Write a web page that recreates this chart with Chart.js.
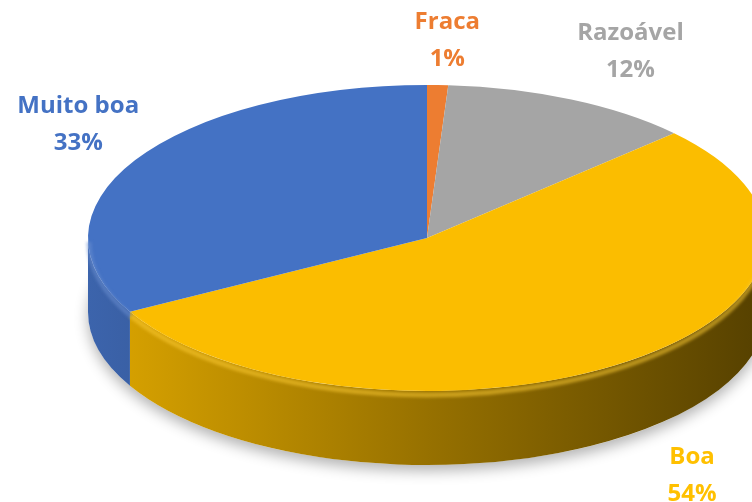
<!DOCTYPE html>
<html>
<head>
<meta charset="utf-8">
<script src="https://cdn.jsdelivr.net/npm/chart.js@4"></script>
<style>
  body { margin: 0; background: #fff; overflow: hidden; }
  #wrap { width: 752px; height: 502px; position: relative; }
</style>
</head>
<body>
<div id="wrap"><canvas id="pieChart"></canvas></div>
<script>
// ===== Data =====
const categories = ['Fraca', 'Razoável', 'Boa', 'Muito boa'];
const percentages = [1, 12, 54, 33];
const sliceColors = ['#ed7d31', '#a5a5a5', '#fbbd00', '#4472c4'];
const labelColors = ['#ed7d31', '#a5a5a5', '#ffc000', '#4472c4'];

// ===== Ellipse geometry for the tilted pie =====
const CX = 427, CY = 238, RX = 339, RY = 153, DEPTH = 74;

function shade(hex, f) {
    const n = parseInt(hex.slice(1), 16);
    const r = Math.round(((n >> 16) & 255) * f);
    const g = Math.round(((n >> 8) & 255) * f);
    const b = Math.round((n & 255) * f);
    return `rgb(${Math.min(r,255)}, ${Math.min(g,255)}, ${Math.min(b,255)})`;
}
function tint(hex, t) {
    const n = parseInt(hex.slice(1), 16);
    const mix = c => Math.round(c + (255 - c) * t);
    return `rgb(${mix((n >> 16) & 255)}, ${mix((n >> 8) & 255)}, ${mix(n & 255)})`;
}

// ===== 3D pie plugin: side walls + squash the top face =====
const pie3d = {
    id: 'pie3d',
    beforeDatasetsDraw(chart) {
        const ctx = chart.ctx;
        const meta = chart.getDatasetMeta(0);

        // soft shadow under the pie
        ctx.save();
        ctx.beginPath();
        ctx.ellipse(CX, CY + DEPTH, RX, RY, 0, 0, Math.PI * 2);
        ctx.shadowColor = 'rgba(0,0,0,0.3)';
        ctx.shadowBlur = 14;
        ctx.shadowOffsetY = 6;
        ctx.fillStyle = '#ffffff';
        ctx.fill();
        ctx.restore();

        // side walls (front half only)
        meta.data.forEach((arc, i) => {
            const a1 = Math.max(arc.startAngle, 0);
            const a2 = Math.min(arc.endAngle, Math.PI);
            if (a2 <= a1) return;
            const col = sliceColors[i];
            const grad = ctx.createLinearGradient(CX - RX, 0, CX + RX, 0);
            grad.addColorStop(0, shade(col, 0.88));
            grad.addColorStop(0.5, shade(col, 0.6));
            grad.addColorStop(1, shade(col, 0.34));
            ctx.save();
            ctx.beginPath();
            ctx.ellipse(CX, CY, RX, RY, 0, a1, a2);
            ctx.ellipse(CX, CY + DEPTH, RX, RY, 0, a2, a1, true);
            ctx.closePath();
            ctx.fillStyle = grad;
            ctx.fill();
            ctx.restore();
        });

        // squash the library's circle into the top ellipse
        const first = meta.data[0];
        const R = first.outerRadius;
        ctx.save();
        ctx.translate(CX, CY);
        ctx.scale(RX / R, RY / R);
        ctx.translate(-first.x, -first.y);
    },
    afterDatasetsDraw(chart) {
        const ctx = chart.ctx;
        ctx.restore();
        const meta = chart.getDatasetMeta(0);

        // bevel highlight along the front rim
        meta.data.forEach((arc, i) => {
            const a1 = Math.max(arc.startAngle, 0);
            const a2 = Math.min(arc.endAngle, Math.PI);
            if (a2 <= a1) return;
            ctx.save();
            ctx.beginPath();
            ctx.ellipse(CX, CY + 4, RX - 1, RY, 0, a1, a2);
            ctx.strokeStyle = tint(sliceColors[i], 0.2);
            ctx.globalAlpha = 0.55;
            ctx.lineWidth = 5;
            ctx.filter = 'blur(1.5px)';
            ctx.stroke();
            ctx.restore();
        });
    },
    afterDraw(chart, args, opts) {
        const ctx = chart.ctx;
        const meta = chart.getDatasetMeta(0);
        ctx.save();
        ctx.font = 'bold 24px "Open Sans", sans-serif';
        ctx.textAlign = 'center';
        ctx.textBaseline = 'middle';
        meta.data.forEach((arc, i) => {
            const mid = (arc.startAngle + arc.endAngle) / 2;
            const nudge = opts.nudge[i];
            let x = CX + RX * 1.25 * Math.cos(mid) + nudge[0];
            let y = CY + RY * 1.3 * Math.sin(mid) + nudge[1];
            if (Math.sin(mid) > 0) y += DEPTH;
            ctx.fillStyle = labelColors[i];
            ctx.fillText(categories[i], x, y - 18);
            ctx.fillText(percentages[i] + '%', x, y + 19);
        });
        ctx.restore();
    }
};

// ===== Render Chart =====
const ctx = document.getElementById('pieChart').getContext('2d');
new Chart(ctx, {
    type: 'pie',
    data: {
        labels: categories,
        datasets: [{
            data: percentages,
            backgroundColor: sliceColors,
            borderWidth: 0,
            clip: false
        }]
    },
    options: {
        responsive: true,
        maintainAspectRatio: false,
        animation: false,
        plugins: {
            legend: { display: false },
            tooltip: { enabled: false },
            pie3d: { nudge: [[7, 1], [23, -7], [16, 2], [16, -13]] }
        }
    },
    plugins: [pie3d]
});
</script>
</body>
</html>
